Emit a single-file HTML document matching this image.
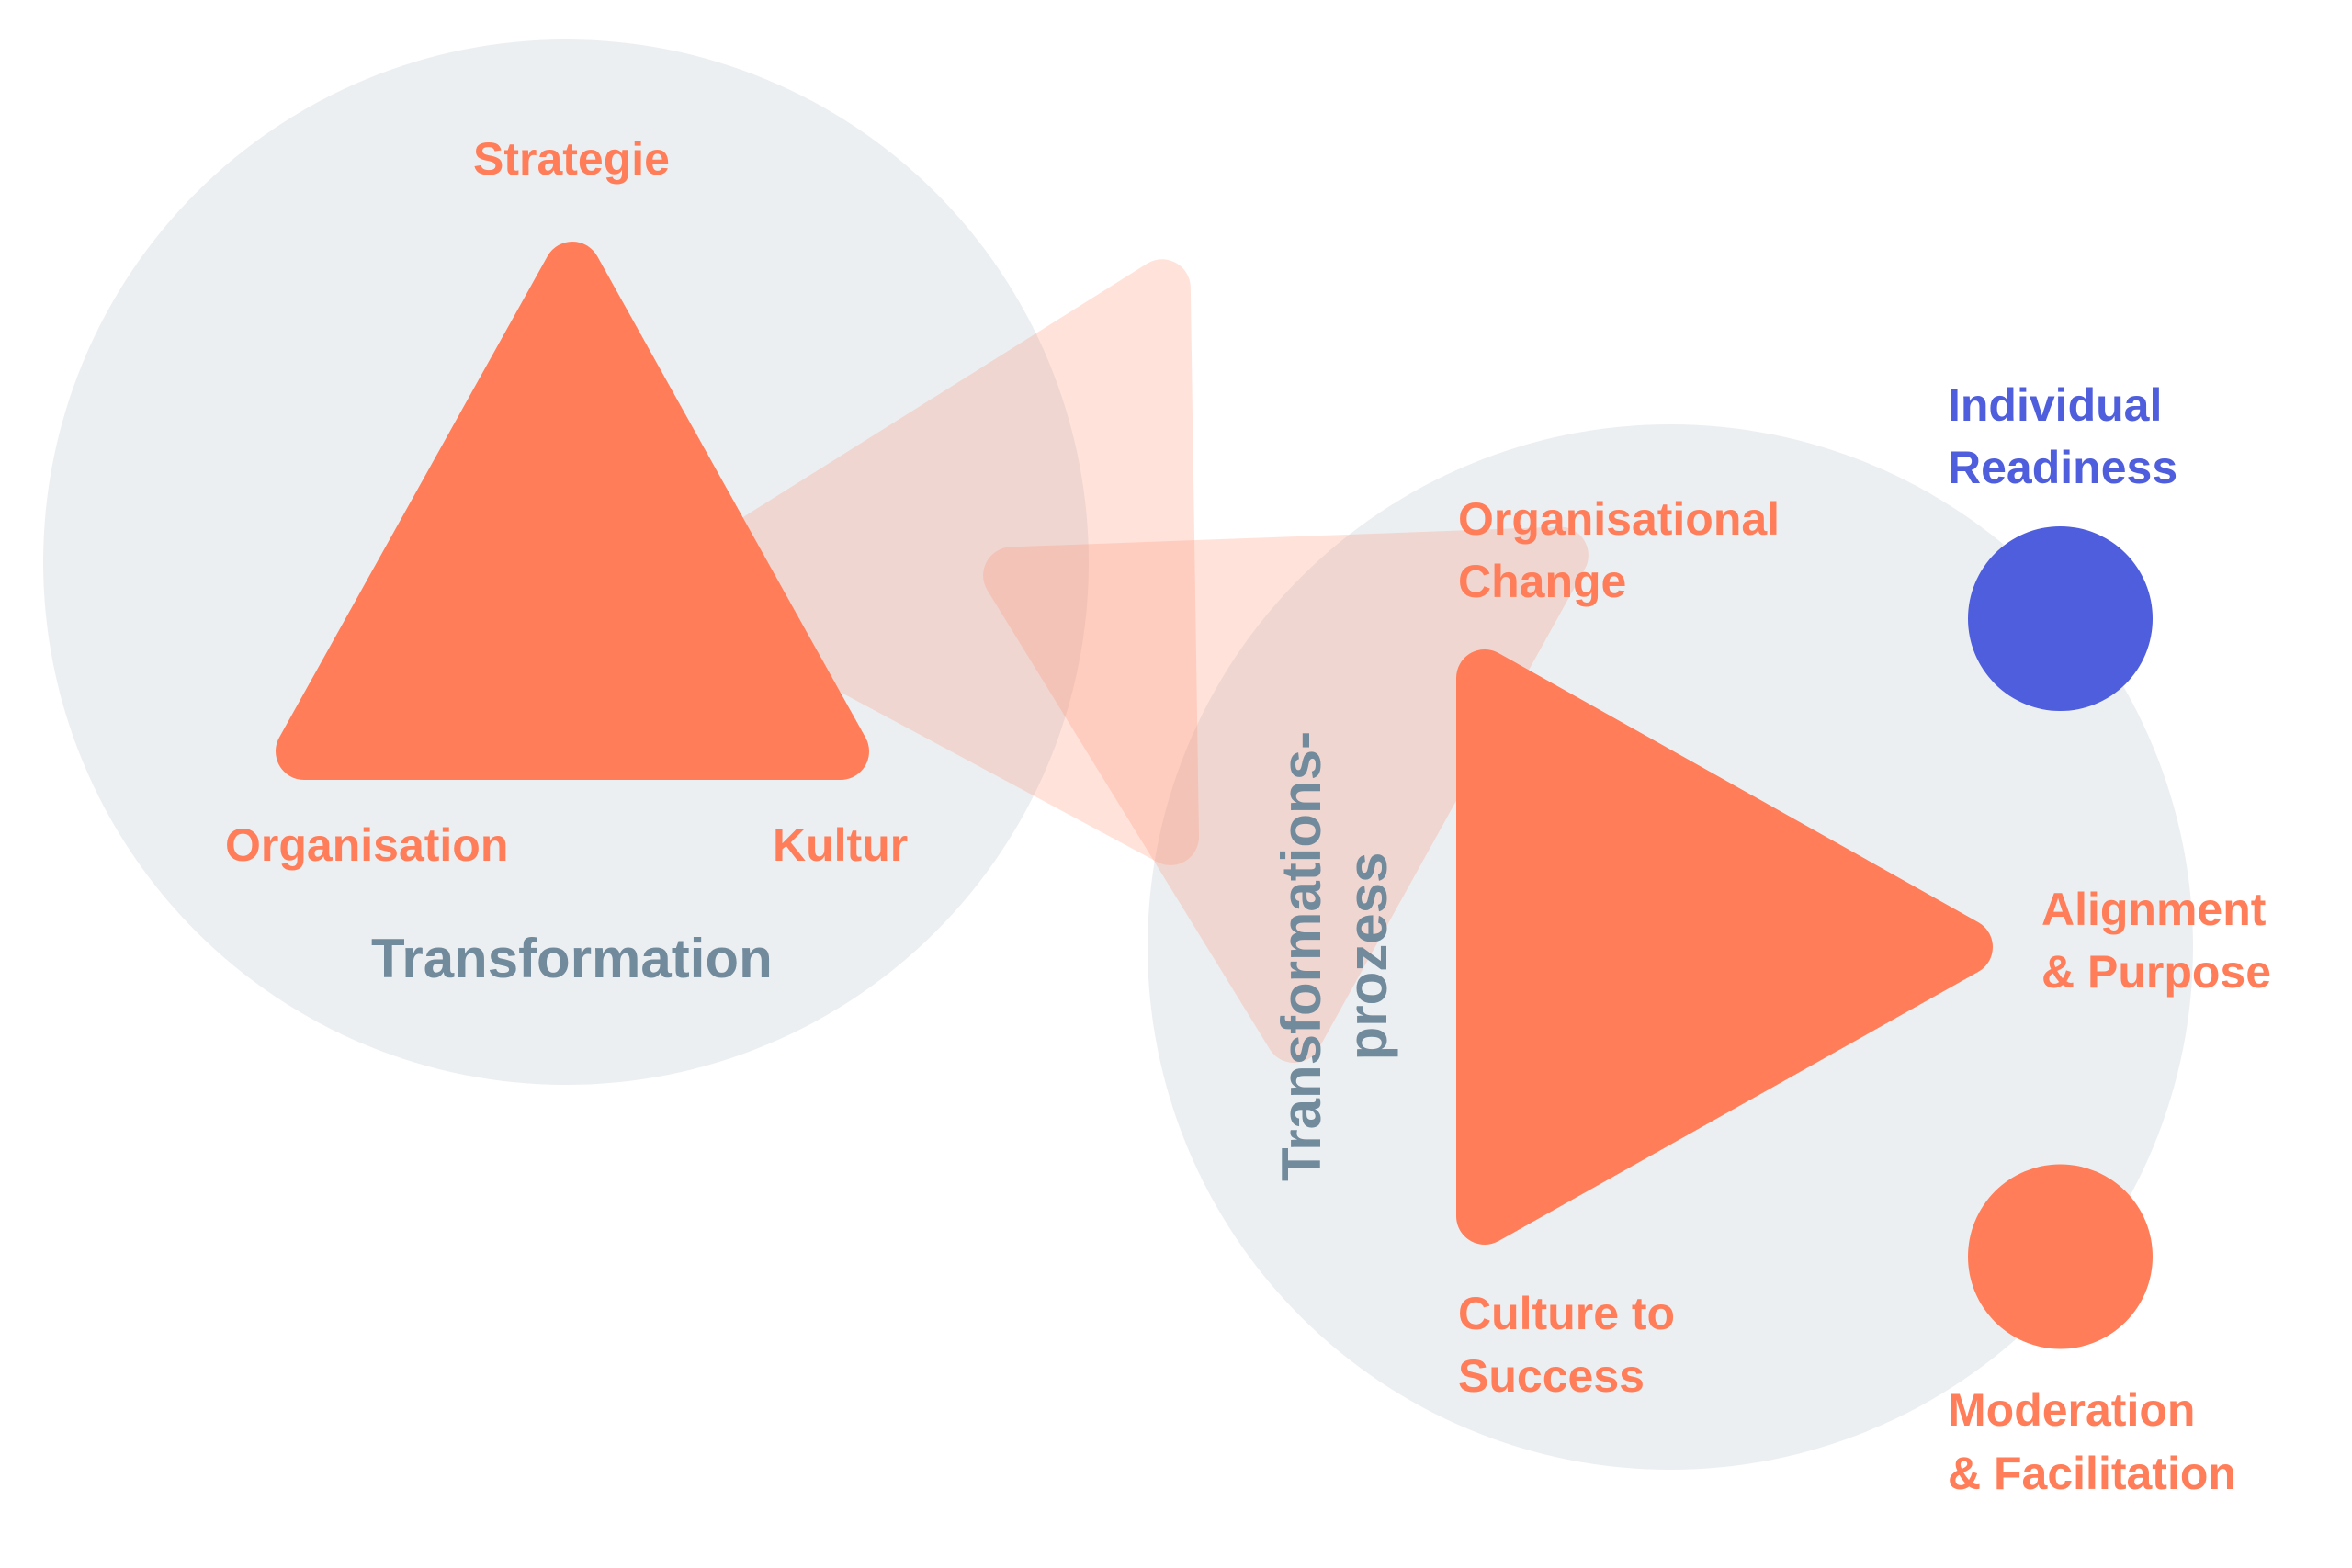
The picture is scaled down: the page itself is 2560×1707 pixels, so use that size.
<!DOCTYPE html>
<html>
<head>
<meta charset="utf-8">
<style>
  html, body { margin: 0; padding: 0; background: #ffffff; overflow: hidden; }
  svg { display: block; }
  .lbl { font-family: "Liberation Sans", Arial, sans-serif; font-weight: bold; font-size: 50px; }
  .org { fill: #FF7E59; }
  .blu { fill: #4E5EDC; }
  .sla { fill: #718A9C; font-size: 60px; }
</style>
</head>
<body>
<svg width="2560" height="1707" viewBox="0 0 2560 1707" xmlns="http://www.w3.org/2000/svg">
  <rect x="0" y="0" width="2560" height="1707" fill="#ffffff"/>

  <!-- big background circles -->
  <circle cx="616" cy="612" r="569" fill="#ECEFF2"/>
  <circle cx="1818" cy="1031" r="569" fill="#ECEFF2"/>

  <!-- pale translucent triangles -->
  <g opacity="0.21">
    <polygon points="755.6,633 1264.9,313.3 1274,910.9" fill="#FF7E59" stroke="#FF7E59" stroke-width="62" stroke-linejoin="round"/>
  </g>
  <g opacity="0.21">
    <polygon points="1101.1,626.4 1697.9,604.5 1408.5,1126.1" fill="#FF7E59" stroke="#FF7E59" stroke-width="62" stroke-linejoin="round"/>
  </g>

  <!-- solid orange triangles -->
  <polygon points="623,294 331,818 915,818" fill="#FF7E59" stroke="#FF7E59" stroke-width="62" stroke-linejoin="round"/>
  <polygon points="1616,738 1616,1324 2138,1031" fill="#FF7E59" stroke="#FF7E59" stroke-width="62" stroke-linejoin="round"/>

  <!-- small circles -->
  <circle cx="2242.5" cy="673.5" r="100.5" fill="#4E5EDC"/>
  <circle cx="2242.5" cy="1368" r="100.5" fill="#FF7E59"/>

  <!-- left labels -->
  <text class="lbl org" x="622" y="190" text-anchor="middle">Strategie</text>
  <text class="lbl org" x="245" y="937">Organisation</text>
  <text class="lbl org" x="841" y="937">Kultur</text>
  <text class="lbl sla" x="404" y="1064">Transformation</text>

  <!-- rotated label -->
  <g transform="translate(1437,1041) rotate(-90)">
    <text class="lbl sla" x="0" y="0" text-anchor="middle">Transformations-</text>
    <text class="lbl sla" x="0" y="72" text-anchor="middle">prozess</text>
  </g>

  <!-- right labels -->
  <text class="lbl org" x="1587" y="582">Organisational</text>
  <text class="lbl org" x="1587" y="650">Change</text>

  <text class="lbl org" x="1587" y="1447">Culture to</text>
  <text class="lbl org" x="1587" y="1515">Success</text>

  <text class="lbl blu" x="2120" y="458">Individual</text>
  <text class="lbl blu" x="2120" y="526">Readiness</text>

  <text class="lbl org" x="2222" y="1007">Alignment</text>
  <text class="lbl org" x="2222" y="1075">&amp; Purpose</text>

  <text class="lbl org" x="2120" y="1552">Moderation</text>
  <text class="lbl org" x="2120" y="1621">&amp; Facilitation</text>
</svg>
</body>
</html>
